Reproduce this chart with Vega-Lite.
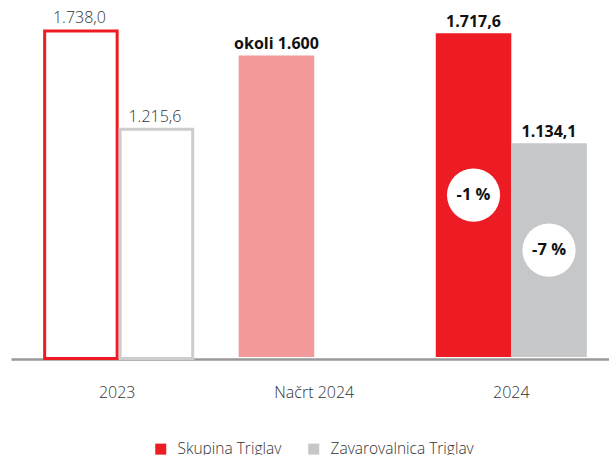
{
  "$schema": "https://vega.github.io/schema/vega-lite/v6.json",
  "autosize": {"type": "none"},
  "padding": {"left": 11, "top": 0, "right": 0, "bottom": 98},
  "width": 598,
  "height": 357,
  "background": "white",
  "config": {
    "view": {"stroke": null},
    "font": "Open Sans",
    "axisX": {
      "title": null,
      "domainColor": "#999999",
      "domainWidth": 2.5,
      "offset": 2,
      "ticks": false,
      "grid": false,
      "labelAngle": 0,
      "labelFont": "Open Sans",
      "labelFontSize": 16,
      "labelColor": "#333333",
      "labelFontWeight": 300,
      "labelPadding": 25
    }
  },
  "data": {
    "values": [
      {"category": "2023", "series": "Skupina Triglav", "value": 1738.0, "label": "1.738,0"},
      {"category": "2023", "series": "Zavarovalnica Triglav", "value": 1215.6, "label": "1.215,6"},
      {"category": "Načrt 2024", "series": "Skupina Triglav", "value": 1600, "label": "okoli 1.600"},
      {"category": "2024", "series": "Skupina Triglav", "value": 1717.6, "label": "1.717,6", "change": "-1 %"},
      {"category": "2024", "series": "Zavarovalnica Triglav", "value": 1134.1, "label": "1.134,1", "change": "-7 %"}
    ]
  },
  "encoding": {
    "x": {
      "field": "category",
      "type": "nominal",
      "sort": ["2023", "Načrt 2024", "2024"],
      "scale": {"paddingInner": 0.2335, "paddingOuter": 0.134, "align": 0.58}
    },
    "xOffset": {
      "field": "series",
      "type": "nominal",
      "scale": {"domain": ["Skupina Triglav", "Zavarovalnica Triglav"], "paddingInner": 0, "paddingOuter": 0}
    }
  },
  "layer": [
    {
      "layer": [
        {
          "transform": [{"filter": "datum.category !== '2023'"}],
          "mark": {"type": "bar"},
          "encoding": {
            "y": {"field": "value", "type": "quantitative", "scale": {"domain": [0, 1894]}, "axis": null},
            "color": {
              "field": "series",
              "type": "nominal",
              "scale": {"domain": ["Skupina Triglav", "Zavarovalnica Triglav"], "range": ["#ED1C24", "#C6C7C9"]},
              "condition": {"test": "datum.category === 'Načrt 2024'", "value": "#F4999A"},
              "legend": {
                "orient": "none",
                "legendX": 142,
                "legendY": 441,
                "direction": "horizontal",
                "title": null,
                "symbolType": "square",
                "symbolSize": 121,
                "symbolStrokeWidth": 0,
                "symbolOpacity": 1,
                "labelFont": "Open Sans",
                "labelFontSize": 15.5,
                "labelFontWeight": 300,
                "labelColor": "#333333",
                "labelOffset": 9,
                "labelLimit": 400,
                "columnPadding": 24,
                "padding": 0
              }
            }
          }
        },
        {
          "transform": [{"filter": "datum.category === '2023'"}],
          "mark": {"type": "bar", "fill": "white", "strokeWidth": 3, "width": {"band": 0.96}, "yOffset": 1.5, "y2Offset": -1.5},
          "encoding": {
            "y": {"field": "value", "type": "quantitative", "scale": {"domain": [0, 1894]}, "axis": null},
            "stroke": {
              "field": "series",
              "type": "nominal",
              "scale": {"domain": ["Skupina Triglav", "Zavarovalnica Triglav"], "range": ["#ED1C24", "#CDCDCD"]},
              "legend": null
            }
          }
        },
        {
          "transform": [{"filter": "datum.category === '2023'"}],
          "mark": {"type": "text", "font": "Open Sans", "fontSize": 16, "fontWeight": 300, "color": "#333333", "baseline": "alphabetic", "dy": -6},
          "encoding": {
            "y": {"field": "value", "type": "quantitative", "scale": {"domain": [0, 1894]}, "axis": null},
            "text": {"field": "label"}
          }
        },
        {
          "transform": [{"filter": "datum.category !== '2023'"}],
          "mark": {"type": "text", "font": "Open Sans", "fontSize": 16, "fontWeight": "bold", "color": "#111111", "baseline": "alphabetic", "dy": -6},
          "encoding": {
            "y": {"field": "value", "type": "quantitative", "scale": {"domain": [0, 1894]}, "axis": null},
            "text": {"field": "label"}
          }
        }
      ]
    },
    {
      "transform": [{"filter": "isValid(datum.change)"}],
      "layer": [
        {
          "mark": {"type": "circle", "size": 2827, "color": "white", "opacity": 1, "strokeWidth": 0},
          "encoding": {
            "y": {"field": "value", "type": "quantitative", "scale": {"domain": [0, 3788]}, "axis": null}
          }
        },
        {
          "mark": {"type": "text", "font": "Open Sans", "fontSize": 16.5, "fontWeight": "bold", "color": "#111111", "baseline": "middle"},
          "encoding": {
            "y": {"field": "value", "type": "quantitative", "scale": {"domain": [0, 3788]}, "axis": null},
            "text": {"field": "change"}
          }
        }
      ]
    }
  ],
  "resolve": {"scale": {"y": "independent"}}
}
